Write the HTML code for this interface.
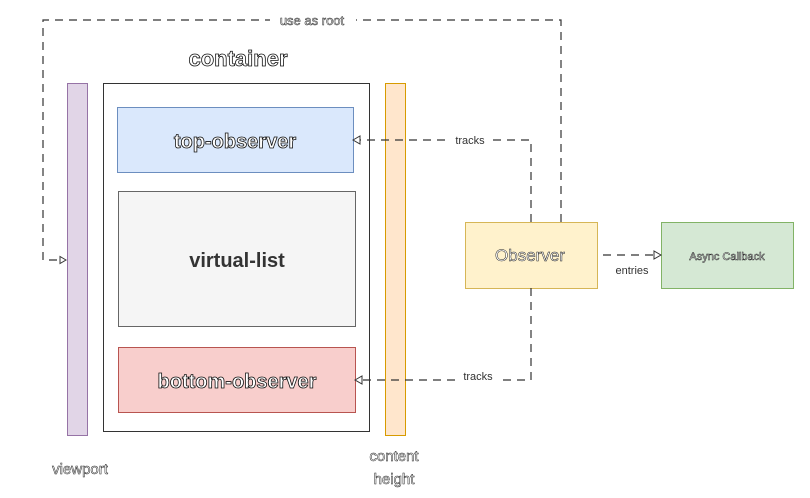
<!DOCTYPE html>
<html><head><style>html,body{margin:0;padding:0;background:#fff;width:810px;height:498px;overflow:hidden}svg{display:block}</style></head>
<body>
<svg width="810" height="498" viewBox="0 0 810 498" xmlns="http://www.w3.org/2000/svg" font-family="Liberation Sans, Arial, sans-serif">
<rect x="67.5" y="83.5" width="20" height="352" fill="#e1d5e7" stroke="#9673a6"/>
<rect x="103.5" y="83.5" width="266" height="348" fill="#fff" stroke="#333"/>
<rect x="117.5" y="107.5" width="236" height="65" fill="#dae8fc" stroke="#6c8ebf"/>
<rect x="118.5" y="191.5" width="237" height="135" fill="#f5f5f5" stroke="#666"/>
<rect x="118.5" y="347.5" width="237" height="65" fill="#f8cecc" stroke="#b85450"/>
<rect x="385.5" y="83.5" width="20" height="352" fill="#ffe6cc" stroke="#d79b00"/>
<rect x="465.5" y="222.5" width="132" height="66" fill="#fff2cc" stroke="#d6b656"/>
<rect x="661.5" y="222.5" width="132" height="66" fill="#d5e8d4" stroke="#82b366"/>
<g fill="none" stroke="#333" stroke-dasharray="8,6" stroke-width="1.2">
<path d="M561,222 V20 H43 V260 H62"/>
<path d="M531,222 V140 H358"/>
<path d="M531,288 V380 H360"/>
<path d="M603,255 H656"/>
</g>
<g fill="#fff" stroke="#333" stroke-width="1">
<path d="M66,260 l-6,-3.5 v7 z"/>
<path d="M353,140 l7,-4 v8 z"/>
<path d="M355,380 l7,-4 v8 z"/>
<path d="M661,255 l-7,-4 v8 z"/>
</g>
<rect x="270" y="12" width="86" height="16" fill="#fff"/>
<rect x="450" y="133" width="40" height="14" fill="#fff"/>
<rect x="460" y="370" width="38" height="12" fill="#fff"/>
<g text-anchor="middle" fill="#fff" stroke="#111" stroke-width="0.8">
<text x="238" y="66" font-size="22" font-weight="bold">container</text>
<text x="235" y="148" font-size="20" font-weight="bold">top-observer</text>
<text x="237" y="388" font-size="20" font-weight="bold">bottom-observer</text>
</g>
<g text-anchor="middle" fill="#fff" stroke="#222" stroke-width="0.5">
<text x="312" y="25" font-size="13">use as root</text>
<text x="530" y="261" font-size="17">Observer</text>
<text x="727" y="260" font-size="11">Async Callback</text>
<text x="80" y="474" font-size="15">viewport</text>
<text x="394" y="461" font-size="15">content</text>
<text x="394" y="484" font-size="15">height</text>
</g>
<g text-anchor="middle" fill="#333" font-size="11">
<text x="470" y="144">tracks</text>
<text x="478" y="380">tracks</text>
<text x="632" y="274">entries</text>
</g>
<text x="237" y="267" text-anchor="middle" font-size="20" font-weight="bold" fill="#333">virtual-list</text>
</svg>
</body></html>
